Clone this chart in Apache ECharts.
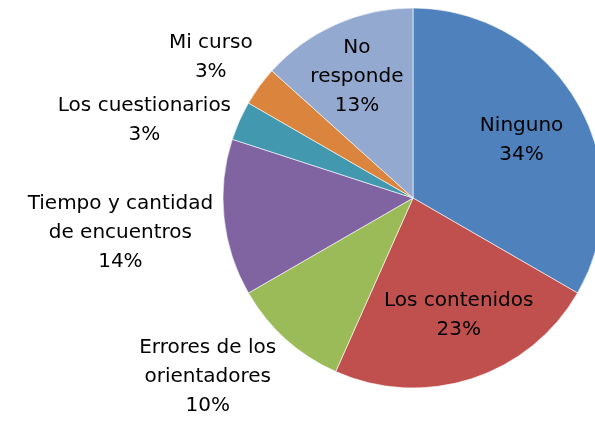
<!DOCTYPE html>
<html><head><meta charset="utf-8">
<script src="https://cdn.jsdelivr.net/npm/echarts@6/dist/echarts.min.js"></script>
<style>html,body{margin:0;padding:0;background:#fff}#c{width:595px;height:422px}</style>
</head><body><div id="c"></div>
<script>
// Data (30 respondents)
const categories = ['Ninguno','Los contenidos','Errores de los\norientadores','Tiempo y cantidad\nde encuentros','Los cuestionarios','Mi curso','No\nresponde'];
const counts = [10, 7, 3, 4, 1, 1, 4];
const percentLabels = [34, 23, 10, 14, 3, 3, 13];

// Style / layout
const colors = ['#4F81BD','#C0504D','#9BBB59','#8064A2','#4198AF','#DB843D','#93A9CF'];
const insideLabel = [true, true, false, false, false, false, true];
const insideRadius = [0.66, 0.66, 0, 0, 0, 0, 0.7];
const nudge = [[0,5],[7,-2],[-5,0],[-4,10],[-2,14],[-1,-8],[-2,0]];
const CX = 413, CY = 198, R = 190;

const total = counts.reduce((a,b)=>a+b,0);
const mids = []; let acc = 0;
counts.forEach(v => { mids.push((acc + v/2) / total * 2 * Math.PI); acc += v; });

const chart = echarts.init(document.getElementById('c'), null, {renderer:'canvas'});
chart.setOption({
  backgroundColor: '#fff',
  animation: false,
  series: [{
    type: 'pie',
    center: [CX, CY],
    radius: R,
    startAngle: 90,
    clockwise: true,
    avoidLabelOverlap: false,
    silent: true,
    data: categories.map((n,i)=>({name:n, value:counts[i], itemStyle:{color:colors[i]}})),
    itemStyle: {borderColor:'#ffffff', borderWidth:0.6},
    label: {
      show: true,
      position: 'inside',
      fontFamily: 'DejaVu Sans',
      fontSize: 20,
      lineHeight: 29,
      color: '#000',
      align: 'center',
      formatter: p => p.name + '\n' + percentLabels[p.dataIndex] + '%'
    },
    labelLine: {show:false},
    labelLayout: function(p){
      const i = p.dataIndex, th = mids[i];
      const dx = Math.sin(th), dy = -Math.cos(th);
      const w = p.labelRect.width, h = p.labelRect.height;
      let x, y;
      if (insideLabel[i]) {
        x = CX + dx*R*insideRadius[i];
        y = CY + dy*R*insideRadius[i];
      } else {
        const ax = CX + dx*(R+7), ay = CY + dy*(R+7);
        x = ax + (dx<0 ? -1 : 1) * w/2;
        y = ay + dy*h/2;
      }
      return {x: x + nudge[i][0], y: y + nudge[i][1], align:'center', verticalAlign:'middle'};
    }
  }]
});
</script>
</body></html>
